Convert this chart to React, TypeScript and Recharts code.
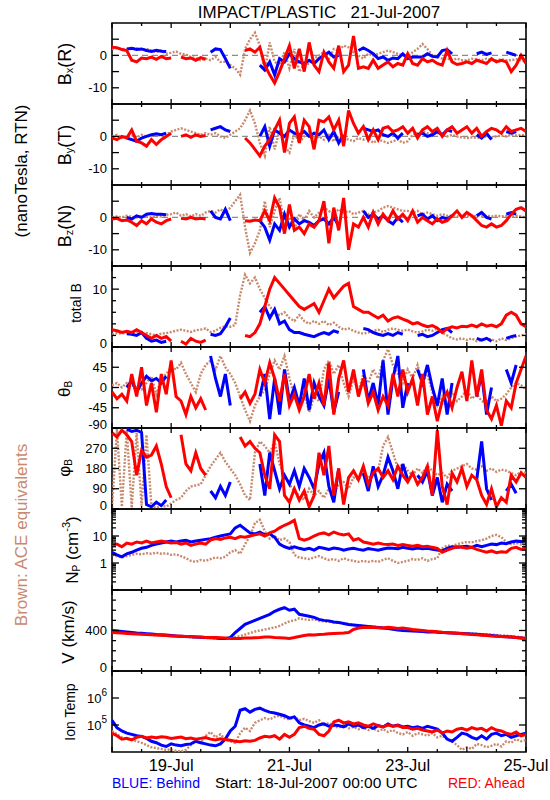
import React from 'react';
import { ComposedChart, Line, XAxis, YAxis, ReferenceArea, ReferenceLine } from 'recharts';

const _ = null;

// time in hours since 18-Jul-2007 00:00 UTC
const T = [
  0, 2, 4, 6, 8, 10, 12, 14, 16, 18, 20, 22,
  24, 26, 28, 30, 32, 34, 36, 38, 40, 42, 44, 46,
  48, 50, 52, 54, 56, 58, 60, 62, 64, 66, 68, 70,
  72, 74, 76, 78, 80, 82, 84, 86, 88, 90, 92, 94,
  96, 98, 100, 102, 104, 106, 108, 110, 112, 114, 116, 118,
  120, 122, 124, 126, 128, 130, 132, 134, 136, 138, 140, 142,
  144, 146, 148, 150, 152, 154, 156, 158, 160, 162, 164, 166,
  168,
];
const X_TICKS = [0, 12, 24, 36, 48, 60, 72, 84, 96, 108, 120, 132, 144, 156, 168];
const X_LABEL_T = [24, 72, 120, 168];
const X_LABELS = ['19-Jul', '21-Jul', '23-Jul', '25-Jul'];

// ---- Bx (R) ----
const BX_RED = [
  2.5, 2.4, 1.8, 1.5, -1.5, -2, -0.8, -1, -0.5, -1.2, -0.3, -1,
  -0.8, _, -0.5, -1, -0.8, -1.5, -0.7, -1.2, _, _, _, _,
  _, _, _, 1.5, 2, 1, 2.5, -3, -6, -8.5, -5, -1,
  3, -4, 2, -5, 4, -3, -5, 1, -2, -4, 3, -5,
  -3, 6, -4, -3.5, -4, -1.5, -4, -3, -2, -3.5, -2.5, -3,
  0.5, -2.5, -3, -1, -2, -1.5, -2.5, -3, 1.5, -2, -2.8, -2.5,
  -2, -2.5, -1.5, -2, -2.5, -1, -2, -1.5, -2, -5, -3, 0,
  -2.5,
];
const BX_BLUE = [
  _, _, _, 2, 2.2, 1.8, 2, 1.5, 1.2, 1.6, 1.3, 1.2,
  _, _, _, _, _, _, _, _, 1, 2, 1.8, -1,
  -4, _, _, _, _, _, -3, -4.5, -2, -6, -1, -2,
  0.5, -1, -2, -2.5, -1.5, -2.5, -1, 0, 1, -0.5, 0, _,
  _, _, 1.5, 2.3, 1.5, 0.5, -1, -0.5, -1.5, -0.8, -1, 0.5,
  -1, -0.5, -0.5, -0.5, 0.5, -0.3, -0.5, 1.5, 1.8, 0.5, _, _,
  _, _, 0.5, 1, 0.3, 0.8, _, _, 1, 0.5, 0, _,
  _,
];
const BX_BROWN = [
  2, 2.2, 2, 1.8, 2, 2.2, 1.8, 2, 1.5, 1, 1.5, 0.5,
  0.8, 1.2, 0.5, 0.3, -0.5, -0.8, -1.5, -1, -1.5, -0.5, -2, -2,
  -3, -4, -6, 2, 5, 7, 3, -5, 4, -2, -3, 1,
  -4, 2, -5, -3, -2.5, -1, 0, 1, -1, 2, 1.5, 3,
  2.5, 1, 0, -1, 0.5, 0, 0.5, 1, 1.5, 1, 0.5, 0,
  -0.5, 1, 2, 3.5, 2, 0, -0.5, -1, -1, -1.5, -1, -1.5,
  -1.5, -1, -1.2, -1.5, -1, -1.5, -1.5, -1.2, -1.5, -1.5, -1.2, -1.5,
  -2,
];

// ---- By (T) ----
const BY_RED = [
  -0.5, -1, 0, -0.5, 2, -1.5, -2, -3, -1, -2.5, -1, 0,
  1, _, 0, 0.5, -0.3, 0.5, 0, 0.3, _, _, _, _,
  _, _, _, -0.5, -2, -4, -6, -3, -1, 2, 5, -5,
  4, 6, -2, 5, 3, -4, 5, 4.5, 6, 2, 5, -3,
  8, 4, 1, 3, -1, 2, -1, 2.5, 3, 1.5, 2, 3,
  1, 2.5, -0.5, 2, 3, 1.5, 2.5, 0, 2, 3, 1, 2,
  3, 1, 2.5, 0, 1.5, 2.5, 2, 1, 3, 1.5, 2, 2.5,
  1.5,
];
const BY_BLUE = [
  _, _, _, -0.5, -1, -1.5, -0.5, 0, 0.5, 0.8, 0.5, 1,
  _, _, _, _, _, _, _, _, 2, 2.5, 3, 2,
  1.5, _, _, _, _, _, 0, 3, -3, 2, 1, 0,
  2, 1, 0.5, 1.5, 0, 1, 0.5, 2, -1, 1.5, -2, 0.5,
  _, _, _, 2.5, 2, 1.5, 2, 0.5, 0, 1, -0.5, 1,
  _, _, 0.5, 1, 0, 0.5, 1.5, 0.5, 2, 1.5, _, _,
  _, _, 0.5, -0.5, 1, -1, _, _, 1.5, 1, 1.5, _,
  _,
];
const BY_BROWN = [
  0, 0.5, -0.5, 0, 0.3, -0.3, 0.5, 0, 0.3, 0.5, 0.2, 0.5,
  1.5, 2, 2.5, 2, 1.5, 1, 0.5, 1, 0.5, 1, 0, -0.5,
  0.5, 1.5, 2.5, 5, 8, 4, -2, -6, 3, -4, 2, -3,
  -5, 1, -2, 0, 1.5, -1, 0, -1, 0.5, -1.5, 0, -0.5,
  -1, -1.5, -0.5, -1, -0.5, -2, -1, -1.5, -2, -1.5, -1, -2,
  -1.5, 0.5, 1, 1.5, 1, 0.5, 1, 0.5, 0, 0.5, 0, -0.3,
  -0.5, -0.3, -0.5, -0.3, 0, -0.3, 0, 0.3, 0, 0.5, 0.3, 0.5,
  0.3,
];

// ---- Bz (N) ----
const BZ_RED = [
  -0.5, -0.3, -1, -0.8, -1.5, -2.5, -1, -2, -0.5, -1.5, -2, -1,
  -0.5, _, -0.3, -0.5, 0, -0.5, -0.3, -0.5, _, _, _, _,
  _, _, _, -1, -1.2, -0.8, -1, 2, -1, 6, 3, -5,
  4, -4, -3, -5, -2, -3, -1, 5, -8, 3, -4, 6,
  -10, -2, -3, 0, -3, 1.5, -2, 1, -1, 2, -0.5, 1,
  -1, 2, -1.5, 0, -1, -2, -0.5, -1.5, -1, 0.5, 2, 0,
  1.5, 0.5, -1, -2.5, -3, -2, -3, -2.5, -1, 1, 2.5, 3,
  2,
];
const BZ_BLUE = [
  _, _, _, 0, -0.5, 0.5, 0, 1, 1.2, 1, 1, 0.8,
  _, _, _, _, _, _, _, _, 2, 0, -0.5, 2.5,
  -1, _, _, _, _, _, -1, -3, -7, -2, -4, 1,
  -3, -0.5, -2, -1, -1.5, -2.5, -1, -0.5, -2, 0, -2.5, _,
  _, _, _, 2, 0, 1, -0.5, 0.5, -1, -2, 0, -1.5,
  _, _, 0.5, 1, -0.5, 0.5, -1, 0, -0.5, 0.5, _, _,
  _, _, 0.5, 1.5, 0, -0.5, _, _, 1, 1.5, 1, _,
  _,
];
const BZ_BROWN = [
  0, 0.3, 0, 0.5, 0.2, 0, 0.5, 0.3, 0, 0.5, 0.3, 0.8,
  1, 1.5, 0.5, 1, 0.3, 1, 0.5, 1.5, 2, 1.5, 2.5, 1.5,
  3, 5, 7, -3, -11, -8, -4, 5, -3, 2, 6, -2,
  0, -4, 1, -1, 2, 0, 1.5, 3, 2, 1, 2.5, 1.5,
  2, 1, 1.5, 2, 1, 1.5, 2, 3, 3.5, 3, 2.5, 2,
  2, 1.5, 2, 1, 1.5, 1, 0.5, 1, 0.5, 0.5, 0.3, 0.5,
  0.5, 0.3, 0.5, 0.3, 0.5, 0.3, 0.5, 0.3, 0.5, 0.3, 0.5, 0.3,
  0,
];

// ---- total B ----
const BT_RED = [
  3, 2.8, 2.5, 2.7, 2.5, 3, 2.5, 2, 1.5, 2, 1.5, 1.8,
  1, _, 1, 0.5, 1.5, 1, 0.8, 1.2, _, _, _, _,
  _, _, _, 2, 1.8, 2.5, 4, 7, 10, 12, 11, 10,
  9, 8, 7, 6.5, 7, 7.5, 6, 8, 10, 8.5, 9.5, 10.5,
  11, 7, 6.5, 6, 6, 5.5, 5, 5.5, 4.5, 5, 5.2, 4.8,
  4.5, 4, 4.2, 3.8, 3.5, 3.7, 3.3, 2.5, 3.2, 3.5, 3.3, 3.6,
  3.5, 3.8, 3.5, 4, 3.6, 3.8, 3.5, 4, 5.5, 6, 5.5, 4,
  3.5,
];
const BT_BLUE = [
  _, _, _, 2.3, 2.2, 2, 2.5, 1.5, 1, 1.2, 0.8, 1,
  _, _, _, _, _, _, _, _, 2.2, 2, 2.3, 3.5,
  5, _, _, _, _, _, 6, 7, 5, 6.5, 4, 4.5,
  3, 2.5, 2.5, 2.2, 2, 1.8, 2.2, 2.5, 2.2, 2.8, 2.5, _,
  _, _, _, 3.2, 3, 2.5, 2.2, 2, 2.3, 2, 2.5, 2.2,
  _, _, 2, 2.2, 1.8, 2, 2.5, 3, 3.2, 2.5, _, _,
  _, _, 1.5, 1.2, 1.5, 1, _, _, 1.5, 1.8, 2, _,
  _,
];
const BT_BROWN = [
  2.2, 2.4, 2.3, 2.5, 2.4, 2.6, 2.2, 2.4, 2.2, 2, 2.3, 2.4,
  2.6, 2.8, 3, 2.8, 2.6, 2.9, 3, 3.2, 2.6, 2.8, 3.3, 3.6,
  3.5, 3.8, 9, 12.5, 11, 12, 10, 8.5, 7, 6, 5.5, 6,
  5, 4.5, 5.5, 4.5, 4, 4.5, 4, 4.5, 3.8, 4.2, 3.5, 3,
  3.2, 2.8, 2.5, 2.3, 2.5, 2.8, 3, 2.6, 3, 3.2, 3, 2.8,
  3, 2.7, 2.5, 2.7, 3, 2.8, 3.2, 2.5, 2, 1.5, 1.3, 1.5,
  1.2, 1.5, 1, 1.2, 1.5, 1.3, 1, 1.5, 1.2, 1.5, 1.8, 2,
  2.2,
];

// ---- theta B ----
const TH_RED = [
  -10, -25, -15, -30, 30, -20, 45, -40, 10, -55, 30, -15,
  60, -20, -30, -60, -20, -45, -25, -50, _, _, _, _,
  _, _, -25, -10, -35, -15, 40, 10, 55, 20, -30, 30,
  -40, -15, -50, -20, 30, -25, 10, -40, 55, -60, 20, 60,
  -10, 40, -20, 20, -35, -10, -50, -20, -40, 30, -20, 40,
  -10, 20, -40, 30, -60, -20, -75, -30, -10, -45, 0, 35,
  -30, 60, -20, 40, -50, -70, -40, -85, -30, -45, 10, 40,
  70,
];
const TH_BLUE = [
  _, _, _, 0, 15, -10, 10, 25, 15, 20, 10, 25,
  _, _, _, _, _, _, _, _, 70, 20, -20, 30,
  -40, _, _, _, _, _, -20, 30, -70, 20, -60, 40,
  -30, 0, -40, 20, -50, 10, -20, -40, 20, -55, -10, _,
  _, _, _, 40, -30, 10, -40, 60, -60, 20, 70, -45,
  10, _, 40, 10, 50, 0, -40, 20, -60, 10, _, _,
  _, _, -20, 30, -60, 0, _, _, 40, 10, 50, _,
  _,
];
const TH_BROWN = [
  5, 10, 0, 10, 5, 0, -5, 10, 25, -15, 20, 30,
  45, 40, 55, 30, 10, -10, 30, 50, 60, 40, 70, 45,
  30, 10, -20, -50, -75, -40, -20, -5, 30, 60, 40, 70,
  20, -20, -40, -10, -55, -20, -30, 40, 60, 30, 50, 10,
  -20, 20, -10, 30, 10, 40, 20, 60, 85, 50, 30, 10,
  40, 20, 50, 10, 30, -10, -40, -20, -50, -10, -30, -20,
  -5, -25, -15, -30, -35, -20, -30, -25, -15, 0, 10, 5,
  -5,
];

// ---- phi B ----
const PH_RED = [
  340, 320, 350, 330, 300, 150, 260, 230, 240, 280, 200, 100,
  50, _, 330, 200, 170, 250, 180, 150, _, _, _, _,
  _, _, 320, 280, 300, 270, 250, 150, 90, 330, 300, 60,
  30, 90, 40, 80, 10, 60, 250, 150, 280, 60, 180, 20,
  140, 170, 130, 190, 110, 160, 180, 140, 170, 130, 190, 150,
  120, 160, 110, 140, 190, 60, 350, 100, 20, 160, 120, 180,
  100, 150, 130, 60, 20, 90, 10, 50, 30, 150, 120, 160,
  140,
];
const PH_BLUE = [
  _, _, _, 355, 345, 350, 340, 20, 10, 30, 15, 40,
  _, _, _, _, _, _, _, _, 80, 50, 100, 60,
  120, _, _, _, _, _, 200, 60, 250, 170, 90, 150,
  110, 170, 100, 180, 140, 90, 200, 250, 100, 30, 180, _,
  _, _, _, 160, 80, 190, 100, 150, 230, 170, 90, 200,
  130, _, 150, 120, 170, 60, 140, 30, 110, 80, _, _,
  _, _, 130, 300, 90, 40, _, _, 80, 110, 70, _,
  _,
];
const PH_BROWN = [
  5, 355, 10, 350, 5, 340, 15, 330, 10, 5, 15, 10,
  25, 40, 50, 80, 100, 105, 110, 150, 190, 220, 250, 210,
  180, 150, 110, 60, 40, 250, 300, 280, 250, 300, 200, 150,
  110, 80, 60, 40, 90, 60, 80, 50, 90, 70, 110, 120,
  90, 140, 130, 160, 140, 150, 170, 280, 320, 250, 180, 200,
  170, 150, 180, 160, 190, 170, 150, 160, 140, 170, 180, 190,
  200, 180, 175, 190, 170, 180, 165, 175, 170, 160, 150, 165,
  160,
];

// ---- Np (cm^-3) ----
const NP_RED = [
  4.5, 5, 4, 5.5, 5, 6, 5.5, 6.5, 5.5, 6, 6.5, 6,
  5.5, 5.8, 5, 5.5, 4.5, 5, 5.5, 5, 7, 8, 7.5, 8.5,
  9, 8, 9.5, 9, 10, 11, 12, 10, 13, 15, 20, 25,
  30, 38, 8, 7, 8, 10, 12, 13, 11, 14, 12, 11,
  12, 7, 8, 6, 5.5, 5, 5.5, 5, 4.8, 5, 4.5, 4.8,
  4.5, 4.2, 4.5, 4, 4.2, 3.8, 3.5, 2.5, 3, 3.5, 4, 3.8,
  3.5, 3.8, 3.2, 2.8, 2.5, 2.8, 2.4, 2.6, 2.5, 3.5, 3.8, 3.2,
  3.5,
];
const NP_BLUE = [
  2.5, 2, 1.7, 2.2, 2.5, 3, 3.5, 3.8, 4.5, 5, 5.5, 6,
  6.5, 6, 6.5, 7, 6, 6.5, 7, 7.5, 8, 9, 10, 11,
  12, 20, 25, 18, 13, 12, 14, 11, 12, 9, 5, 4,
  3.5, 4, 3.5, 3.2, 3.5, 3, 3.8, 3.5, 3.2, 3.6, 3.4, 3,
  3.3, 3.5, 3.2, 3, 3.4, 3.2, 3, 3.3, 3.6, 3.5, 3.4, 3.8,
  3.5, 3.3, 3.6, 3.4, 3.5, 3.2, 3, 2.8, 3.5, 4, 3.8, 4,
  4.2, 3.8, 4.5, 4, 4.5, 5, 4.8, 5.5, 5.2, 6, 6.5, 6.2,
  7,
];
const NP_BROWN = [
  2, 1.8, 1.6, 1.8, 2, 2.2, 2.1, 2.3, 2.2, 2.4, 2.2, 2.3,
  2, 2.1, 1.8, 1.5, 1.2, 1.1, 1.3, 1.2, 1.4, 1.6, 1.5, 1.7,
  2.5, 3, 2.2, 5, 10, 30, 40, 15, 8, 10, 7, 8,
  6, 2, 1.6, 1.5, 1.4, 1.6, 1.8, 1.5, 1.3, 1.4, 1.2, 1.5,
  1.3, 1.2, 1.1, 1.2, 1.1, 1.2, 1.1, 1.3, 1.5, 1.2, 1, 1.1,
  1.2, 1.4, 1.3, 1.5, 1.2, 1.4, 1.5, 3.5, 4.5, 4.2, 5, 5.5,
  6, 5.8, 6.5, 7, 8, 10, 11, 9, 6, 5, 5.5, 4.8,
  4.5,
];

// ---- V (km/s) ----
const V_RED = [
  380, 378, 375, 370, 368, 365, 362, 360, 358, 355, 352, 350,
  345, 345, 342, 340, 340, 336, 335, 332, 330, 330, 328, 325,
  322, 320, 322, 325, 325, 328, 330, 335, 335, 330, 328, 325,
  322, 330, 340, 350, 358, 355, 360, 362, 368, 370, 372, 375,
  380, 410, 425, 430, 432, 430, 428, 425, 432, 428, 420, 425,
  418, 410, 405, 400, 395, 392, 388, 382, 378, 375, 372, 368,
  365, 360, 358, 352, 350, 345, 342, 340, 338, 335, 330, 325,
  320,
];
const V_BLUE = [
  400, 395, 390, 385, 380, 375, 372, 368, 365, 360, 358, 355,
  350, 345, 342, 340, 338, 335, 333, 330, 328, 325, 322, 320,
  330, 380, 420, 460, 480, 500, 520, 540, 560, 590, 610, 625,
  600, 610, 560, 550, 540, 530, 510, 500, 495, 485, 480, 470,
  460, 455, 450, 445, 440, 435, 430, 425, 420, 412, 405, 400,
  398, 395, 392, 390, 385, 388, 382, 380, 378, 375, 372, 370,
  368, 365, 362, 358, 355, 350, 345, 340, 338, 335, 330, 325,
  320,
];
const V_BROWN = [
  390, 385, 380, 378, 372, 368, 365, 360, 358, 352, 350, 348,
  345, 342, 340, 335, 332, 330, 328, 325, 325, 322, 320, 320,
  325, 335, 345, 360, 375, 390, 400, 410, 420, 430, 445, 470,
  490, 500, 520, 510, 505, 510, 495, 490, 485, 480, 475, 470,
  465, 455, 450, 445, 440, 438, 435, 430, 425, 420, 415, 410,
  405, 400, 398, 395, 392, 390, 388, 385, 382, 380, 378, 375,
  372, 370, 368, 365, 362, 360, 355, 352, 350, 345, 340, 335,
  330,
];

// ---- Ion Temp (K) ----
const TP_RED = [
  50000, 40000, 30000, 32000, 28000, 35000, 38000, 33000, 36000, 34000, 37000, 35000,
  32000, 34000, 36000, 31000, 33000, 30000, 32000, 34000, 30000, 28000, 31000, 29000,
  27000, 25000, 24000, 26000, 25000, 27000, 33000, 38000, 36000, 40000, 30000, 45000,
  35000, 45000, 80000, 90000, 75000, 70000, 45000, 40000, 60000, 130000, 150000, 120000,
  130000, 110000, 120000, 100000, 90000, 110000, 95000, 85000, 100000, 90000, 95000, 80000,
  80000, 70000, 75000, 65000, 60000, 55000, 65000, 50000, 60000, 55000, 70000, 75000,
  65000, 80000, 70000, 75000, 60000, 80000, 65000, 60000, 50000, 45000, 55000, 40000,
  45000,
];
const TP_BLUE = [
  150000, 80000, 60000, 50000, 45000, 40000, 38000, 32000, 25000, 22000, 18000, 16000,
  20000, 18000, 17000, 19000, 20000, 25000, 22000, 20000, 18000, 17000, 20000, 30000,
  60000, 90000, 350000, 400000, 300000, 380000, 420000, 350000, 300000, 280000, 250000, 220000,
  180000, 200000, 120000, 100000, 90000, 80000, 100000, 110000, 90000, 100000, 95000, 85000,
  110000, 90000, 100000, 80000, 90000, 75000, 95000, 85000, 110000, 90000, 100000, 85000,
  90000, 80000, 85000, 75000, 90000, 80000, 70000, 50000, 30000, 25000, 35000, 50000,
  45000, 35000, 30000, 40000, 30000, 45000, 50000, 40000, 45000, 35000, 40000, 45000,
  50000,
];
const TP_BROWN = [
  60000, 45000, 35000, 30000, 28000, 25000, 22000, 18000, 15000, 14000, 13000, 12000,
  12500, 11000, 10500, 12000, 18000, 25000, 22000, 40000, 55000, 35000, 45000, 30000,
  25000, 22000, 50000, 80000, 60000, 120000, 150000, 180000, 160000, 200000, 220000, 180000,
  160000, 200000, 150000, 170000, 140000, 120000, 150000, 100000, 120000, 90000, 80000, 100000,
  75000, 85000, 70000, 80000, 65000, 75000, 60000, 70000, 55000, 65000, 50000, 45000,
  55000, 40000, 50000, 45000, 40000, 50000, 35000, 40000, 30000, 25000, 18000, 12000,
  15000, 13000, 20000, 18000, 15000, 17000, 20000, 16000, 25000, 22000, 30000, 25000,
  28000,
];

// ---- y-axis ticks ----
const B_TICKS = [-10, -5, 0, 5];
const B_LABELED = [-10, 0];
const BT_TICKS = [0, 2, 4, 6, 8, 10, 12, 14];
const BT_LABELED = [0, 10];
const TH_TICKS = [-90, -45, 0, 45, 90];
const TH_LABELED = [-90, -45, 0, 45];
const PH_TICKS = [0, 90, 180, 270, 360];
const PH_LABELED = [0, 90, 180, 270];
const NP_TICKS = [0.1, 0.2, 0.3, 0.4, 0.5, 0.6, 0.7, 0.8, 0.9, 1, 2, 3, 4, 5, 6, 7, 8, 9, 10, 20, 30, 40, 50, 60, 70, 80, 90, 100];
const NP_LABELED = [1, 10];
const NP_MAJOR = [0.1, 1, 10, 100];
const V_TICKS = [0, 100, 200, 300, 400, 500, 600, 700, 800];
const V_LABELED = [0, 400];
const TP_TICKS = [100000, 1000000];
const TP_LABELED = [100000, 1000000];

const BLUE = '#0000ff';
const RED = '#ff0000';
const BROWN = '#c88a6e';
const FONT = '"Liberation Sans", Arial, Helvetica, sans-serif';

const PLOT_L = 112;
const PLOT_R = 526;
const PANEL_H = 81;
const MT = 6;
const XH = 2;

type Cfg = {
  top: number;
  domain: [number, number];
  log?: boolean;
  ticks: number[];
  labeled: number[];
  major?: number[];
  zero?: boolean;
  exp?: boolean;
  red: (number | null)[];
  blue: (number | null)[];
  brown: (number | null)[];
  last?: boolean;
};

const PANELS: Cfg[] = [
  { top: 23, domain: [-15, 10], ticks: B_TICKS, labeled: B_LABELED, major: B_TICKS, zero: true, red: BX_RED, blue: BX_BLUE, brown: BX_BROWN },
  { top: 104, domain: [-15, 10], ticks: B_TICKS, labeled: B_LABELED, major: B_TICKS, zero: true, red: BY_RED, blue: BY_BLUE, brown: BY_BROWN },
  { top: 185, domain: [-15, 10], ticks: B_TICKS, labeled: B_LABELED, major: B_TICKS, zero: true, red: BZ_RED, blue: BZ_BLUE, brown: BZ_BROWN },
  { top: 266, domain: [0, 14], ticks: BT_TICKS, labeled: BT_LABELED, red: BT_RED, blue: BT_BLUE, brown: BT_BROWN },
  { top: 347, domain: [-90, 90], ticks: TH_TICKS, labeled: TH_LABELED, major: TH_TICKS, red: TH_RED, blue: TH_BLUE, brown: TH_BROWN },
  { top: 428, domain: [0, 360], ticks: PH_TICKS, labeled: PH_LABELED, major: PH_TICKS, red: PH_RED, blue: PH_BLUE, brown: PH_BROWN },
  { top: 509, domain: [0.1, 100], log: true, ticks: NP_TICKS, labeled: NP_LABELED, major: NP_MAJOR, red: NP_RED, blue: NP_BLUE, brown: NP_BROWN },
  { top: 590, domain: [0, 800], ticks: V_TICKS, labeled: V_LABELED, major: [0, 400, 800], red: V_RED, blue: V_BLUE, brown: V_BROWN },
  { top: 671, domain: [10000, 10000000], log: true, ticks: TP_TICKS, labeled: TP_LABELED, major: TP_TICKS, exp: true, red: TP_RED, blue: TP_BLUE, brown: TP_BROWN, last: true },
];

function yTickFactory(cfg: Cfg) {
  return (props: any) => {
    const { y, payload } = props;
    const v = payload.value;
    const major = (cfg.major ?? cfg.labeled).includes(v);
    const len = major ? 7 : 4;
    const hasLabel = cfg.labeled.includes(v);
    const dy = v === cfg.domain[0] ? -4 : 0;
    let label: any = null;
    if (hasLabel) {
      if (cfg.exp) {
        const e = Math.round(Math.log10(v));
        label = (
          <text x={107} y={y + 5} textAnchor="end" fontSize={13} fontFamily={FONT} fill="#000">
            10<tspan dy={-7} fontSize={10}>{e}</tspan>
          </text>
        );
      } else {
        label = (
          <text x={107} y={y + dy} textAnchor="end" dominantBaseline="central" fontSize={13} fontFamily={FONT} fill="#000">
            {String(v)}
          </text>
        );
      }
    }
    return (
      <g>
        <line x1={PLOT_L} x2={PLOT_L + len} y1={y} y2={y} stroke="#000" strokeWidth={1.3} />
        <line x1={PLOT_R - len} x2={PLOT_R} y1={y} y2={y} stroke="#000" strokeWidth={1.3} />
        {label}
      </g>
    );
  };
}

function xTickFactory(cfg: Cfg) {
  return (props: any) => {
    const { x, payload } = props;
    const t = payload.value;
    const len = t % 24 === 0 ? 5 : 3;
    const top = MT;
    const bot = MT + PANEL_H;
    const li = X_LABEL_T.indexOf(t);
    return (
      <g>
        <line x1={x} x2={x} y1={top} y2={top + len} stroke="#000" strokeWidth={1.3} />
        <line x1={x} x2={x} y1={bot} y2={bot - len} stroke="#000" strokeWidth={1.3} />
        {cfg.last && li >= 0 ? (
          <text x={x} y={bot + 19} textAnchor="middle" fontSize={16.5} fontFamily={FONT} fill="#000">
            {X_LABELS[li]}
          </text>
        ) : null}
      </g>
    );
  };
}

function Panel({ cfg }: { cfg: Cfg }) {
  const rows = T.map((t, i) => ({ t, r: cfg.red[i], b: cfg.blue[i], br: cfg.brown[i] }));
  const mb = cfg.last ? 34 : 6;
  const h = MT + PANEL_H + XH + mb;
  return (
    <div style={{ position: 'absolute', left: 0, top: cfg.top - MT }}>
      <ComposedChart width={550} height={h} data={rows} margin={{ top: MT, right: 550 - PLOT_R, bottom: mb, left: 0 }}>
        <XAxis
          dataKey="t"
          type="number"
          domain={[0, 168]}
          ticks={X_TICKS}
          interval={0}
          allowDataOverflow
          tickLine={false}
          axisLine={false}
          height={XH}
          tick={xTickFactory(cfg)}
        />
        <YAxis
          type="number"
          scale={cfg.log ? 'log' : 'linear'}
          domain={cfg.domain}
          ticks={cfg.ticks}
          interval={0}
          allowDataOverflow
          tickLine={false}
          axisLine={false}
          width={PLOT_L}
          tick={yTickFactory(cfg)}
        />
        {cfg.zero ? <ReferenceLine y={0} stroke="#8c8c8c" strokeDasharray="6 4" strokeWidth={1.3} /> : null}
        <Line dataKey="br" stroke={BROWN} strokeWidth={2.4} strokeDasharray="2 1.5" dot={false} connectNulls={false} isAnimationActive={false} />
        <Line dataKey="b" stroke={BLUE} strokeWidth={3} dot={false} connectNulls={false} isAnimationActive={false} />
        <Line dataKey="r" stroke={RED} strokeWidth={3} dot={false} connectNulls={false} isAnimationActive={false} />
        <ReferenceArea x1={0} x2={168} y1={cfg.domain[0]} y2={cfg.domain[1]} fill="none" fillOpacity={0} stroke="#000" strokeWidth={1.6} ifOverflow="visible" />
      </ComposedChart>
    </div>
  );
}

function VLabel({ x, y, size, color = '#000', children }: { x: number; y: number; size: number; color?: string; children: any }) {
  return (
    <text
      transform={`translate(${x},${y}) rotate(-90)`}
      textAnchor="middle"
      dominantBaseline="central"
      fontSize={size}
      fontFamily={FONT}
      fill={color}
    >
      {children}
    </text>
  );
}

function Texts() {
  return (
    <svg width={550} height={800} style={{ position: 'absolute', left: 0, top: 0 }}>
      <text x={319} y={17.5} textAnchor="middle" fontSize={17} fontFamily={FONT} fill="#000" style={{ whiteSpace: 'pre' }}>
        {'IMPACT/PLASTIC   21-Jul-2007'}
      </text>
      <VLabel x={65} y={64} size={18}>
        B<tspan dy={4} fontSize={11}>x</tspan><tspan dy={-4}>(R)</tspan>
      </VLabel>
      <VLabel x={65} y={145} size={18}>
        B<tspan dy={4} fontSize={11}>y</tspan><tspan dy={-4}>(T)</tspan>
      </VLabel>
      <VLabel x={65} y={226} size={18}>
        B<tspan dy={4} fontSize={11}>z</tspan><tspan dy={-4}>(N)</tspan>
      </VLabel>
      <VLabel x={76} y={303} size={14}>total B</VLabel>
      <VLabel x={64} y={389} size={17}>
        θ<tspan dy={4} fontSize={10}>B</tspan>
      </VLabel>
      <VLabel x={64} y={468} size={17}>
        φ<tspan dy={4} fontSize={10}>B</tspan>
      </VLabel>
      <VLabel x={72} y={550} size={17}>
        N<tspan dy={4} fontSize={10}>P</tspan><tspan dy={-4}> (cm</tspan><tspan dy={-6} fontSize={11}>-3</tspan><tspan dy={6}>)</tspan>
      </VLabel>
      <VLabel x={68} y={632} size={17}>V (km/s)</VLabel>
      <VLabel x={70} y={712} size={14}>Ion Temp</VLabel>
      <VLabel x={21} y={171} size={17}>(nanoTesla, RTN)</VLabel>
      <VLabel x={21} y={535} size={17} color={BROWN}>Brown: ACE equivalents</VLabel>
      <text x={112} y={788} fontSize={14} fontFamily={FONT} fill={BLUE}>BLUE: Behind</text>
      <text x={215} y={788} fontSize={15.5} fontFamily={FONT} fill="#000">Start: 18-Jul-2007 00:00 UTC</text>
      <text x={525} y={788} textAnchor="end" fontSize={14} fontFamily={FONT} fill={RED}>RED: Ahead</text>
    </svg>
  );
}

export default function App() {
  return (
    <div style={{ position: 'absolute', left: 0, top: 0, width: 550, height: 800, background: '#fff', overflow: 'hidden' }}>
      <Texts />
      {PANELS.map((cfg, i) => (
        <Panel key={i} cfg={cfg} />
      ))}
    </div>
  );
}
